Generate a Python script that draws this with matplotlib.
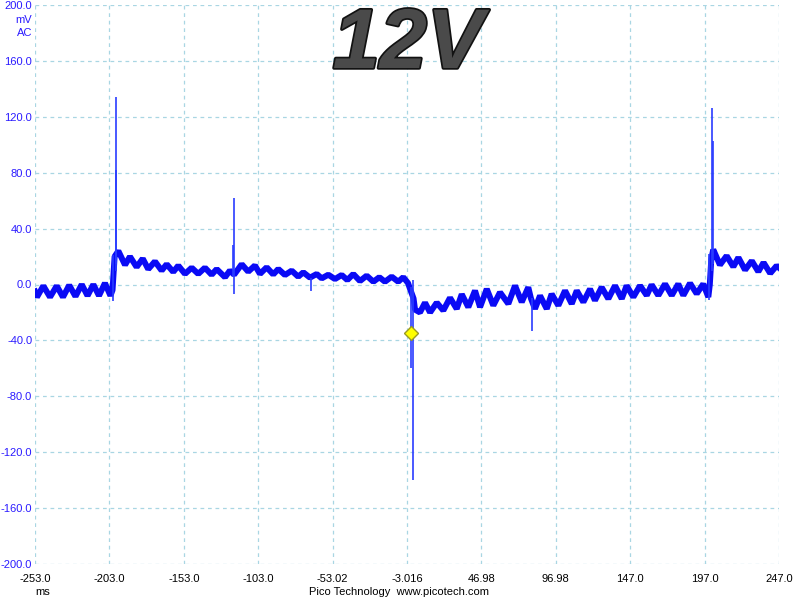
import numpy as np
from matplotlib import pyplot as plt
import matplotlib.patheffects as pe

# scope trace (ms, mV) - ripple band
band_t = [-253.0, -251.7, -247.4, -242.9, -238.4, -234.2, -230.0, -225.8, -221.6, -217.7,
          -213.8, -210.0, -206.0, -202.3, -200.9, -199.5,
          -197.0, -192.5, -189.2, -184.7, -180.6, -176.9, -172.4, -167.9, -164.5, -160.1,
          -156.7, -152.2, -147.7, -143.3, -138.8, -134.3, -130.9, -125.3, -122.0, -119.2,
          -114.1, -109.7, -105.2, -101.8, -97.3, -92.9, -89.5, -85.0, -80.5, -76.1,
          -72.7, -68.2, -63.7, -60.3, -55.9, -51.4, -46.9, -43.1, -39.1, -34.6,
          -30.1, -25.6, -21.6, -17.8, -13.3, -8.9, -5.5, -2.3, -1.0, 1.4, 2.4,
          5.7, 9.1, 12.5, 17.0, 21.4, 25.9, 30.4, 33.8, 38.2, 42.7, 46.1, 50.6, 55.0,
          59.5, 65.1, 69.6, 74.1, 78.5, 80.3, 83.0, 86.4, 90.9, 94.2, 98.7, 103.2,
          107.7, 111.1, 115.5, 120.0, 123.3, 127.8, 132.3, 136.8, 141.3, 144.6, 149.1,
          153.6, 158.1, 161.4, 165.9, 170.4, 174.9, 179.3, 182.7, 187.2, 191.7, 196.1,
          199.5, 200.5, 201.5,
          202.8, 207.3, 211.8, 216.3, 219.7, 224.2, 228.7, 233.1, 236.6, 241.1, 245.4, 247.0]
band_mv = [-5, -9, -1, -9, -1, -9, -0.5, -8.5, 0, -8,
           0, -8, 1, -8, -4, 20,
           24, 14, 20, 12.5, 18.5, 11, 16.5, 10, 14.5, 9,
           13.5, 7.6, 12, 7.6, 12, 7, 11, 5.2, 10, 7,
           14.5, 9.2, 13.6, 7.6, 12.3, 7.2, 11.1, 6.8, 9.9, 5.6,
           8.7, 4.9, 7.5, 4.4, 7, 3.9, 6.8, 3.2, 7.5, 2.5,
           6.3, 2, 5.2, 2, 5.6, 2, 5.2, 1, -3, -10, -18,
           -20, -13, -20, -13, -18.6, -9.5, -17.4, -7, -16.2, -4.4, -16.2, -3.2, -15,
           -5.6, -13.8, -0.8, -12.6, -2, -10, -17.4, -8, -17.4, -6.8, -15, -4.4,
           -13.8, -4.4, -12.6, -3.2, -11.4, -2, -10.2, -0.8, -10.2, -0.8, -9,
           -0.8, -7.8, -0.2, -7.8, 0.4, -7.8, 0.4, -7.8, 0.9, -6.6, 0.4,
           -9, 0, 18,
           25, 14, 20.5, 12.7, 19.3, 10.4, 16.9, 9.2, 15.7, 8, 13.4, 12]

# narrow glitches on top of the band
spike_t = [-200.8, -198.8, -198.3, -119.6, -119.0, -67.5, -0.5, 1.2, 80.8, 200.2, 202.0, 202.6]
spike_lo = [-12, 10, 15, 6, -7, -5, -60, -140, -33, -11, 10, 15]
spike_hi = [21, 134, 82, 28, 62, 5, -2, 3, -10, 22, 126, 103]

# trigger marker
trig_t = 0.0
trig_mv = -35.0

x_ticks = [-253.0, -203.0, -153.0, -103.0, -53.02, -3.016, 46.98, 96.98, 147.0, 197.0, 247.0]
x_labels = ['-253.0', '-203.0', '-153.0', '-103.0', '-53.02', '-3.016', '46.98', '96.98',
            '147.0', '197.0', '247.0']
y_ticks = [200, 160, 120, 80, 40, 0, -40, -80, -120, -160, -200]
y_labels = ['200.0', '160.0', '120.0', '80.0', '40.0', '0.0', '-40.0', '-80.0',
            '-120.0', '-160.0', '-200.0']

plt.rcParams['font.family'] = ['Liberation Sans', 'DejaVu Sans']

W, H = 797, 598
fig = plt.figure(figsize=(W / 100, H / 100), dpi=100)
ax = fig.add_axes([35 / W, 34 / H, 744 / W, 559 / H])

ax.set_xlim(-253.0, 247.0)
ax.set_ylim(-200, 200)
for s in ax.spines.values():
    s.set_visible(False)

ax.set_xticks(x_ticks)
ax.set_xticklabels(x_labels, fontsize=8, color='black')
ax.set_yticks(y_ticks)
ax.set_yticklabels(y_labels, fontsize=8, color='#2a1aff')
ax.tick_params(axis='both', length=0)
ax.tick_params(axis='x', pad=7)
ax.tick_params(axis='y', pad=2)
ax.grid(True, color='#a9d6e3', linestyle=(0, (3, 3)), linewidth=0.9)
ax.set_axisbelow(True)

# trace
ax.plot(band_t, band_mv, color='#0a0af5', linewidth=4.3, solid_joinstyle='bevel', zorder=3)
ax.vlines(spike_t, spike_lo, spike_hi, color='#2a3cff', linewidth=1.2, zorder=3)
ax.plot([trig_t], [trig_mv], marker='D', markersize=7, markerfacecolor='#ffff00',
        markeredgecolor='#9a9a20', markeredgewidth=1, zorder=5)

# units
fig.text(32 / W, 1 - 20 / H, 'mV', ha='right', va='center', fontsize=8, color='#2a1aff')
fig.text(32 / W, 1 - 33 / H, 'AC', ha='right', va='center', fontsize=8, color='#2a1aff')
fig.text(43 / W, 1 - 592 / H, 'ms', ha='center', va='center', fontsize=8)
fig.text(399 / W, 1 - 592 / H, 'Pico Technology  www.picotech.com', ha='center',
         va='center', fontsize=8)

# big title
t = fig.text(408 / W, 1 - 46 / H, '12V', ha='center', va='center', fontsize=61,
             fontweight='bold', fontstyle='italic', color='#4a4a4a', zorder=10)
t.set_path_effects([pe.withStroke(linewidth=2.5, foreground='#121212')])

fig.savefig('out.png', dpi=100)
